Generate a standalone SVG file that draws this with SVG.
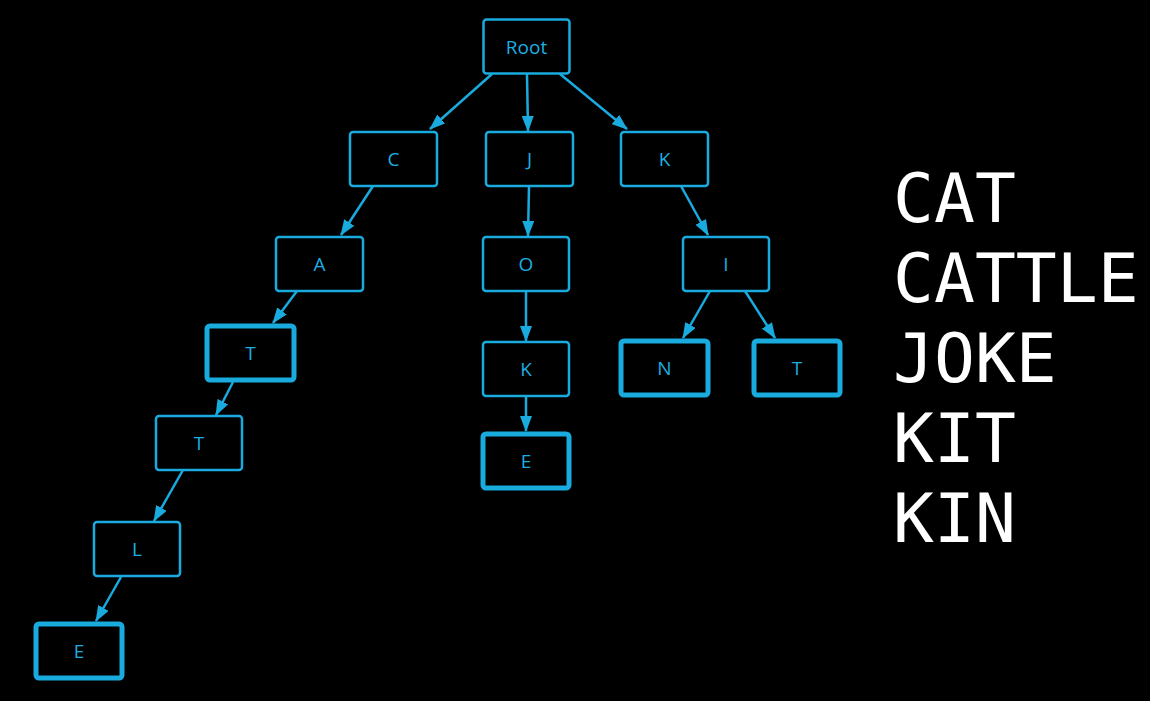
<svg xmlns="http://www.w3.org/2000/svg" width="1150" height="701" viewBox="0 0 1150 701">
<style>
.n rect{fill:#000;stroke:#19aade;stroke-width:2.5}
.n.t rect{stroke-width:5}
.n text{fill:#1caee2;font-family:"Open Sans","Noto Sans",sans-serif;font-size:19px;text-anchor:middle}
.e line{stroke:#19aade;stroke-width:2.5;marker-end:url(#ah)}
.w{fill:#fff;font-family:"DejaVu Sans Mono","Liberation Mono",monospace;font-size:68px}
</style>
<defs>
<marker id="ah" markerUnits="userSpaceOnUse" markerWidth="16" markerHeight="12" refX="15" refY="6" orient="auto">
<path d="M0,0 L16,6 L0,12 Z" fill="#19aade"/>
</marker>
</defs>
<rect width="1150" height="701" fill="#000"/>
<g class="e" id="edges">
<line x1="492" y1="74" x2="430" y2="129"/>
<line x1="527" y1="74" x2="528" y2="131"/>
<line x1="560" y1="74" x2="627" y2="129"/>
<line x1="373" y1="186" x2="341" y2="235"/>
<line x1="529" y1="186" x2="528" y2="236"/>
<line x1="681" y1="186" x2="708" y2="235"/>
<line x1="297" y1="291" x2="273" y2="323"/>
<line x1="526" y1="291" x2="526" y2="341"/>
<line x1="710" y1="291" x2="683" y2="338"/>
<line x1="745" y1="291" x2="775" y2="338"/>
<line x1="233" y1="382" x2="216" y2="415"/>
<line x1="526" y1="396" x2="526" y2="431"/>
<line x1="183" y1="470" x2="154" y2="521"/>
<line x1="121" y1="577" x2="96" y2="621"/>
</g>
<g class="n" id="root"><rect x="483.5" y="19.5" width="86" height="54" rx="3"/><text x="526.5" y="54">Root</text></g>
<g class="n" id="c"><rect x="350" y="132" width="87" height="54" rx="3"/><text x="393.5" y="166">C</text></g>
<g class="n" id="j"><rect x="486" y="132" width="87" height="54" rx="3"/><text x="529.5" y="166">J</text></g>
<g class="n" id="k1"><rect x="621" y="132" width="87" height="54" rx="3"/><text x="664.5" y="166">K</text></g>
<g class="n" id="a"><rect x="276" y="237" width="87" height="54" rx="3"/><text x="319.5" y="271">A</text></g>
<g class="n" id="o"><rect x="483" y="237" width="86" height="54" rx="3"/><text x="526" y="271">O</text></g>
<g class="n" id="i"><rect x="683" y="237" width="86" height="54" rx="3"/><text x="726" y="271">I</text></g>
<g class="n t" id="t1"><rect x="207" y="326" width="87" height="54" rx="3"/><text x="250.5" y="360">T</text></g>
<g class="n" id="k2"><rect x="483" y="342" width="86" height="54" rx="3"/><text x="526" y="376">K</text></g>
<g class="n t" id="n"><rect x="621" y="341" width="87" height="54" rx="3"/><text x="664.5" y="375">N</text></g>
<g class="n t" id="t2"><rect x="754" y="341" width="86" height="54" rx="3"/><text x="797" y="375">T</text></g>
<g class="n" id="t3"><rect x="156" y="416" width="86" height="54" rx="3"/><text x="199" y="450">T</text></g>
<g class="n t" id="e1"><rect x="483" y="434" width="86" height="54" rx="3"/><text x="526" y="468">E</text></g>
<g class="n" id="l"><rect x="94" y="522" width="86" height="54" rx="3"/><text x="137" y="556">L</text></g>
<g class="n t" id="e2"><rect x="36" y="624" width="86" height="54" rx="3"/><text x="79" y="658">E</text></g>
<g id="words">
<text class="w" x="893" y="222">CAT</text>
<text class="w" x="893" y="302">CATTLE</text>
<text class="w" x="893" y="382">JOKE</text>
<text class="w" x="893" y="462">KIT</text>
<text class="w" x="893" y="542">KIN</text>
</g>
</svg>
